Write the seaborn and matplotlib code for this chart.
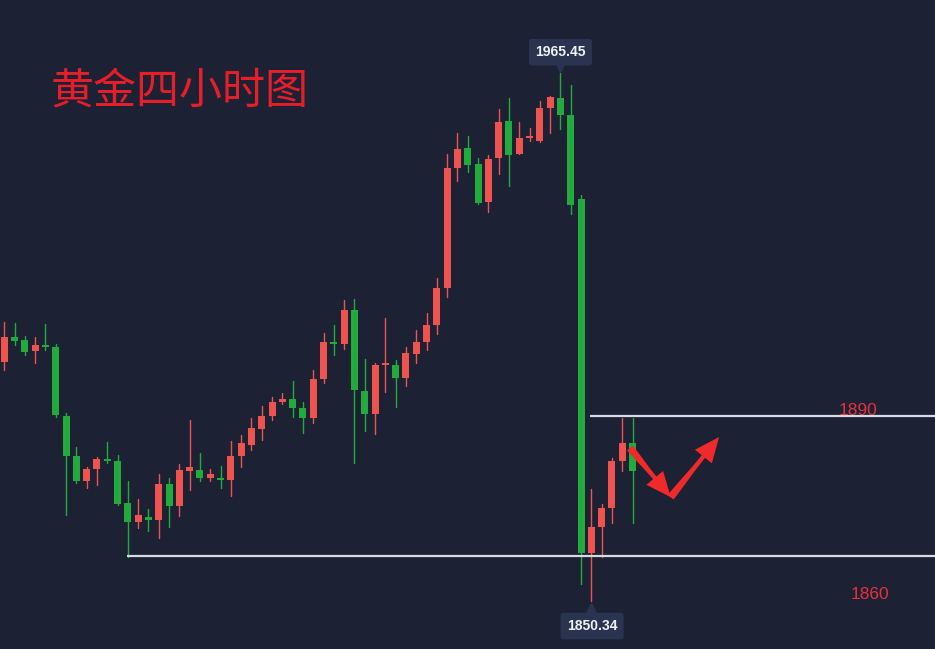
import numpy as np
import pandas as pd
import matplotlib
matplotlib.use("Agg")
import matplotlib.pyplot as plt
from matplotlib.transforms import offset_copy
import seaborn as sns

# ---------------- data ----------------
opens = [1902.5, 1907.8, 1907.2, 1904.9, 1906.2, 1905.8, 1890.7, 1882.0, 1876.6, 1879.1,
         1881.3, 1880.9, 1871.8, 1867.6, 1868.7, 1868.0, 1875.9, 1871.1, 1878.8, 1878.9,
         1877.1, 1877.2, 1876.7, 1882.0, 1884.4, 1887.8, 1890.7, 1893.7, 1894.4, 1892.5,
         1890.2, 1898.7, 1906.9, 1906.4, 1913.8, 1896.2, 1891.1, 1901.7, 1901.8, 1898.9,
         1904.2, 1906.9, 1910.5, 1918.6, 1944.8, 1949.2, 1945.6, 1937.4, 1947.0, 1955.0,
         1947.8, 1951.3, 1950.6, 1957.8, 1960.0, 1956.3, 1937.9, 1860.8, 1866.5, 1870.7,
         1880.9, 1884.9]
highs = [1911.2, 1911.0, 1908.2, 1908.0, 1910.7, 1906.3, 1891.3, 1884.0, 1879.6, 1881.8,
         1885.1, 1882.2, 1876.6, 1872.5, 1870.5, 1878.0, 1877.1, 1880.2, 1889.8, 1882.7,
         1879.1, 1879.8, 1885.3, 1886.5, 1890.3, 1892.9, 1894.9, 1895.6, 1898.3, 1893.8,
         1900.7, 1908.8, 1910.5, 1916.0, 1916.1, 1903.1, 1902.3, 1912.0, 1902.9, 1905.8,
         1909.4, 1913.1, 1920.8, 1947.9, 1952.4, 1951.7, 1947.0, 1947.6, 1957.6, 1959.9,
         1954.8, 1953.5, 1959.3, 1960.5, 1965.45, 1962.9, 1938.9, 1874.8, 1871.5, 1881.6,
         1890.2, 1890.2]
lows = [1900.7, 1906.2, 1904.0, 1902.2, 1905.1, 1890.5, 1869.1, 1876.0, 1875.0, 1875.6,
        1880.4, 1871.3, 1860.0, 1866.2, 1865.7, 1864.0, 1866.5, 1868.9, 1874.5, 1876.6,
        1876.6, 1875.1, 1873.2, 1879.6, 1883.3, 1885.4, 1889.8, 1893.3, 1890.5, 1886.9,
        1889.2, 1897.9, 1904.0, 1905.2, 1880.5, 1887.5, 1886.8, 1896.0, 1892.7, 1897.2,
        1902.3, 1905.1, 1908.6, 1916.7, 1941.9, 1943.8, 1937.0, 1935.2, 1943.4, 1940.9,
        1947.7, 1950.6, 1950.5, 1952.3, 1953.2, 1934.7, 1854.1, 1850.34, 1860.0, 1867.4,
        1878.8, 1867.4]
closes = [1908.0, 1907.0, 1904.7, 1906.2, 1905.8, 1890.9, 1882.0, 1876.6, 1879.1, 1881.3,
          1880.9, 1871.6, 1867.6, 1869.1, 1868.0, 1875.9, 1871.1, 1878.9, 1879.6, 1877.1,
          1878.0, 1876.7, 1882.0, 1884.7, 1888.1, 1890.7, 1893.7, 1894.4, 1892.5, 1890.3,
          1898.7, 1906.9, 1906.4, 1913.8, 1896.3, 1891.1, 1901.8, 1902.0, 1898.9, 1904.5,
          1906.9, 1910.5, 1918.6, 1944.7, 1948.9, 1945.5, 1937.2, 1946.7, 1954.8, 1947.6,
          1951.3, 1951.6, 1957.9, 1960.3, 1956.2, 1936.6, 1860.8, 1866.5, 1870.7, 1880.9,
          1884.9, 1878.6]

title_text = "黄金四小时图"
level_values = [1890.7, 1860.2]
level_labels = ["1890", "1860"]
level_start = [57, 12]          # candle index where each drawn level line starts
peak_label = "1965.45"
trough_label = "1850.34"
arrow_x = [60.75, 64.7, 69.4]   # hand-drawn arrow path (candle-index units)
arrow_y = [1883.7, 1873.0, 1886.1]

# ---------------- style ----------------
BG = "#1c2234"
UP = "#ef5350"
DOWN = "#22ab3c"
LEVEL = "#d6dae2"
TIP_BG = "#2a3450"
RED_TXT = "#e8303c"

sns.set_theme(style="dark", rc={"axes.facecolor": BG, "figure.facecolor": BG})
plt.rcParams['font.family'] = ['Noto Sans CJK SC', 'DejaVu Sans']

fig = plt.figure(figsize=(9.35, 6.49), dpi=100)
ax = fig.add_axes([0, 0, 1, 1])
ax.set_facecolor(BG)

n = len(opens)
df = pd.DataFrame(dict(idx=np.arange(n), candle=np.arange(n), open=opens,
                       high=highs, low=lows, close=closes))
df["dir"] = np.where(df["close"] >= df["open"], "up", "down")

# wicks through seaborn
wicks = df.melt(id_vars=["idx", "candle", "dir"], value_vars=["high", "low"],
                value_name="price")
sns.lineplot(data=wicks, x="idx", y="price", units="candle", estimator=None,
             hue="dir", palette={"up": UP, "down": DOWN}, linewidth=1.0,
             legend=False, ax=ax, zorder=2)

# bodies
body_lo = np.minimum(df["open"], df["close"])
body_h = np.maximum((df["close"] - df["open"]).abs(), 0.45)
colors = [UP if d == "up" else DOWN for d in df["dir"]]
ax.bar(df["idx"], body_h, bottom=body_lo, width=0.68, color=colors,
       linewidth=0, zorder=3)

ax.set_xlim(-0.417, 90.36)
ax.set_ylim(1839.9, 1981.36)
xmax = ax.get_xlim()[1]

# level lines
for lv, st in zip(level_values, level_start):
    ax.hlines(lv, st - 0.12, xmax, color=LEVEL, linewidth=1.6, zorder=4)

# level labels
ax.text(0.9177, 0.3675, level_labels[0], transform=ax.transAxes, color=RED_TXT,
        fontsize=12.5, family=["Liberation Sans", "DejaVu Sans"], ha="center", va="center")
ax.text(0.9305, 0.0835, level_labels[1], transform=ax.transAxes, color=RED_TXT,
        fontsize=12.5, family=["Liberation Sans", "DejaVu Sans"], ha="center", va="center")

# title
ax.text(0.054, 0.859, title_text, transform=ax.transAxes, color="#e61e2a",
        fontsize=31, ha="left", va="center", fontweight="medium",
        family=["Noto Sans CJK SC", "DejaVu Sans"])

# high / low tooltips
i_hi = int(np.argmax(highs))
i_lo = int(np.argmin(lows))
ax.annotate(peak_label, xy=(i_hi, highs[i_hi]), xytext=(0, 15), textcoords="offset points",
            ha="center", va="center", color="#eef1f6", fontsize=10, fontweight="bold",
            family=["Liberation Sans", "DejaVu Sans"],
            bbox=dict(boxstyle="round,pad=0.45,rounding_size=0.2", fc=TIP_BG, ec="none"),
            zorder=6)
tr_up = offset_copy(ax.transData, fig=fig, x=0, y=4.5, units="points")
ax.plot([i_hi], [highs[i_hi]], marker="v", markersize=7, color=TIP_BG,
        transform=tr_up, zorder=5)
ax.annotate(trough_label, xy=(i_lo, lows[i_lo]), xytext=(0.5, -18), textcoords="offset points",
            ha="center", va="center", color="#eef1f6", fontsize=10, fontweight="bold",
            family=["Liberation Sans", "DejaVu Sans"],
            bbox=dict(boxstyle="round,pad=0.45,rounding_size=0.2", fc=TIP_BG, ec="none"),
            zorder=6)
tr_dn = offset_copy(ax.transData, fig=fig, x=0, y=-5, units="points")
ax.plot([i_lo], [lows[i_lo]], marker="^", markersize=7, color=TIP_BG,
        transform=tr_dn, zorder=5)

# hand-drawn arrows
for k in range(len(arrow_x) - 1):
    ax.annotate("", xy=(arrow_x[k + 1], arrow_y[k + 1]), xytext=(arrow_x[k], arrow_y[k]),
                arrowprops=dict(arrowstyle="wedge,tail_width=0.45,shrink_factor=0.6",
                                color="#f02a2a", lw=0, shrinkA=0, shrinkB=0), zorder=7)
    ax.annotate("", xy=(arrow_x[k + 1], arrow_y[k + 1]), xytext=(arrow_x[k], arrow_y[k]),
                arrowprops=dict(arrowstyle="simple,head_length=1.5,head_width=1.3,tail_width=0.25",
                                color="#f02a2a", lw=0, shrinkA=0, shrinkB=0), zorder=7)

ax.set_xticks([])
ax.set_yticks([])
ax.set_xlabel("")
ax.set_ylabel("")
for s in ax.spines.values():
    s.set_visible(False)
ax.grid(False)

fig.savefig("out.png", dpi=100, facecolor=BG)
